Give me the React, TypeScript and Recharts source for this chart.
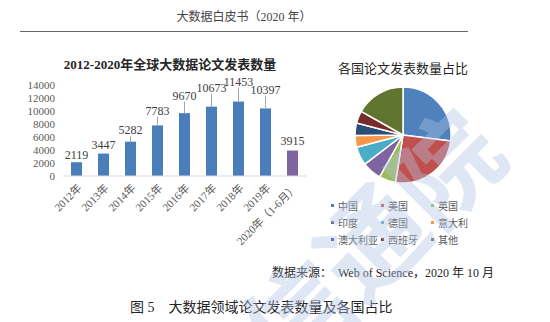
import React from "react"
import { BarChart, Bar, XAxis, YAxis, Cell, LabelList, PieChart, Pie } from "recharts"

const years = ["2012年", "2013年", "2014年", "2015年", "2016年", "2017年", "2018年", "2019年", "2020年（1-6月）"]
const papers = [2119, 3447, 5282, 7783, 9670, 10673, 11453, 10397, 3915]
const yTicks = [0, 2000, 4000, 6000, 8000, 10000, 12000, 14000]

const countries = ["中国", "美国", "英国", "印度", "德国", "意大利", "澳大利亚", "西班牙", "其他"]
const shares = [27, 25.5, 5.6, 6.5, 6.3, 3.9, 4.2, 4.2, 16.8]

const pieColors = ["#4F81BD", "#C0504D", "#9BBB59", "#8064A2", "#4BACC6", "#F79646", "#2C4D75", "#772C2A", "#5F7530"]
const FONT = "'Liberation Serif', 'Times New Roman', 'Noto Sans CJK SC', serif"

const barData = years.map((year, i) => ({ year, value: papers[i] }))
const pieData = countries.map((name, i) => ({ name, value: shares[i] }))

const XTick = (props: any) => {
  const { x, y, payload } = props
  const tx = x + 3
  const ty = y + 2
  return (
    <text x={tx} y={ty} dy="0.35em" transform={`rotate(-45 ${tx} ${ty})`} textAnchor="end" fontSize={11} fill="#595959" fontFamily={FONT}>
      {payload.value}
    </text>
  )
}

// labels sit higher on taller bars, tied to the bar top by a short leader line
const BarLabel = (props: any) => {
  const { x, y, width, value } = props
  const cx = x + width / 2
  const lift = value * 0.0014
  const ly = y - lift
  return (
    <g>
      {lift > 6 && <line x1={cx} x2={cx} y1={ly + 2} y2={y} stroke="#a6a6a6" strokeWidth={1} />}
      <text x={cx} y={ly} textAnchor="middle" fontSize={12} fill="#404040" fontFamily={FONT}>
        {value}
      </text>
    </g>
  )
}

export default function App() {
  return (
    <div style={{ position: "absolute", left: 0, top: 0, width: 550, height: 322, background: "#fff", overflow: "hidden", fontFamily: FONT }}>
      <div style={{ position: "absolute", left: 20, width: 448, top: 7, textAlign: "center", fontSize: 12, color: "#444" }}>
        大数据白皮书（2020 年）
      </div>
      <div style={{ position: "absolute", left: 20, width: 448, top: 31, height: 1, background: "#666" }} />

      <div style={{ position: "absolute", left: 40, width: 260, top: 54, textAlign: "center", fontSize: 13, fontWeight: 700, color: "#262626" }}>
        2012-2020年全球大数据论文发表数量
      </div>
      <div style={{ position: "absolute", left: 0, top: 70 }}>
        <BarChart width={310} height={176} data={barData} margin={{ top: 15, right: 4, left: 0, bottom: 0 }}>
          <XAxis dataKey="year" height={70} interval={0} tickLine={false} axisLine={{ stroke: "#d9d9d9" }} tick={<XTick />} />
          <YAxis width={63} domain={[0, 14000]} ticks={yTicks} interval={0} axisLine={false} tickLine={false} tick={{ fontSize: 11, fill: "#595959", fontFamily: FONT }} />
          <Bar dataKey="value" barSize={11} isAnimationActive={false}>
            {barData.map((d, i) => (
              <Cell key={d.year} fill={i === barData.length - 1 ? "#8064A2" : "#4A7EBB"} />
            ))}
            <LabelList dataKey="value" content={<BarLabel />} />
          </Bar>
        </BarChart>
      </div>

      <div style={{ position: "absolute", left: 323, width: 160, top: 58, textAlign: "center", fontSize: 13, color: "#262626" }}>
        各国论文发表数量占比
      </div>
      <div style={{ position: "absolute", left: 333, top: 75 }}>
        <PieChart width={140} height={120} margin={{ top: 0, right: 0, left: 0, bottom: 0 }}>
          <Pie data={pieData} dataKey="value" nameKey="name" cx={70} cy={60} outerRadius={48} startAngle={90} endAngle={-270} stroke="#fff" strokeWidth={1.5} isAnimationActive={false}>
            {pieData.map((d, i) => (
              <Cell key={d.name} fill={pieColors[i]} />
            ))}
          </Pie>
        </PieChart>
      </div>
      {pieData.map((d, i) => (
        <div key={d.name} style={{ position: "absolute", left: 331 + (i % 3) * 50, top: 198 + Math.floor(i / 3) * 17, fontSize: 10, color: "#595959", display: "flex", alignItems: "center", whiteSpace: "nowrap" }}>
          <span style={{ display: "inline-block", width: 3, height: 3, background: pieColors[i], marginRight: 4 }} />
          {d.name}
        </div>
      ))}

      <div style={{ position: "absolute", left: 272, top: 263, fontSize: 12, color: "#262626", whiteSpace: "nowrap" }}>
        数据来源：&nbsp;&nbsp;Web of Science，2020 年 10 月
      </div>
      <div style={{ position: "absolute", left: 130, top: 296, fontSize: 14, color: "#262626", whiteSpace: "nowrap" }}>
        图 5&nbsp;&nbsp;&nbsp;&nbsp;大数据领域论文发表数量及各国占比
      </div>

      <svg width={550} height={322} style={{ position: "absolute", left: 0, top: 0, pointerEvents: "none" }}>
        <text x={400} y={270} transform="rotate(-45 400 270)" textAnchor="middle" fontSize={105} fontWeight={700} fill="rgba(175,195,228,0.4)" fontFamily="'Noto Sans CJK SC', sans-serif">
          信通院
        </text>
      </svg>
    </div>
  )
}
